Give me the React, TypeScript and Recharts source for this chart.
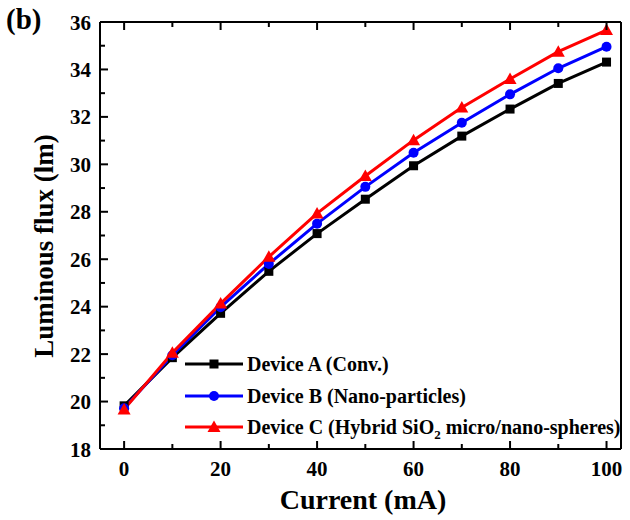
import React from "react";
import { LineChart, Line, XAxis, YAxis, Legend } from "recharts";

// Luminous flux vs current for three LED devices
const currents = [0, 10, 20, 30, 40, 50, 60, 70, 80, 90, 100];
const deviceA = [19.82, 21.85, 23.72, 25.49, 27.08, 28.53, 29.94, 31.19, 32.33, 33.41, 34.31];
const deviceB = [19.72, 21.95, 23.98, 25.8, 27.5, 29.05, 30.49, 31.75, 32.95, 34.05, 34.96];
const deviceC = [19.67, 22.06, 24.13, 26.1, 27.93, 29.51, 31.02, 32.4, 33.6, 34.75, 35.66];

const xTicks = [0, 10, 20, 30, 40, 50, 60, 70, 80, 90, 100];
const xLabels = [0, 20, 40, 60, 80, 100];
const yTicks = [18, 19, 20, 21, 22, 23, 24, 25, 26, 27, 28, 29, 30, 31, 32, 33, 34, 35, 36];
const yLabels = [18, 20, 22, 24, 26, 28, 30, 32, 34, 36];

const seriesNames = [
  "Device A (Conv.)",
  "Device B (Nano-particles)",
  "Device C (Hybrid SiO2 micro/nano-spheres)",
];
const seriesColors = ["#000000", "#0000ff", "#ff0000"];

const data = currents.map((c, i) => ({
  current: c,
  a: deviceA[i],
  b: deviceB[i],
  c: deviceC[i],
}));

const FONT = "'Liberation Serif', 'Times New Roman', serif";
const tickFont = { fontFamily: FONT, fontWeight: 700, fontSize: 21, fill: "#000" };

const SquareDot = (p: any) => (
  <rect key={`a${p.index}`} x={p.cx - 4.5} y={p.cy - 4.5} width={9} height={9} fill="#000" />
);
const CircleDot = (p: any) => (
  <circle key={`b${p.index}`} cx={p.cx} cy={p.cy} r={5} fill="#0000ff" />
);
const TriDot = (p: any) => (
  <polygon
    key={`c${p.index}`}
    points={`${p.cx},${p.cy - 6.5} ${p.cx + 6.5},${p.cy + 5} ${p.cx - 6.5},${p.cy + 5}`}
    fill="#ff0000"
  />
);

const BottomTick = ({ x, y, payload }: any) => {
  const major = xLabels.includes(payload.value);
  return (
    <g>
      <line x1={x} x2={x} y1={y} y2={y - (major ? 8 : 5)} stroke="#000" strokeWidth={2} />
      {major && (
        <text x={x} y={y + 27} textAnchor="middle" style={tickFont}>
          {payload.value}
        </text>
      )}
    </g>
  );
};

const TopTick = ({ x, y, payload }: any) => {
  const major = xLabels.includes(payload.value);
  return <line x1={x} x2={x} y1={y} y2={y + (major ? 8 : 5)} stroke="#000" strokeWidth={2} />;
};

const LeftTick = ({ x, y, payload }: any) => {
  const major = yLabels.includes(payload.value);
  return (
    <g>
      <line x1={x} x2={x + (major ? 8 : 5)} y1={y} y2={y} stroke="#000" strokeWidth={2} />
      {major && (
        <text x={x - 9} y={y} dy="0.36em" textAnchor="end" style={tickFont}>
          {payload.value}
        </text>
      )}
    </g>
  );
};

const RightTick = ({ x, y, payload }: any) => {
  const major = yLabels.includes(payload.value);
  return <line x1={x} x2={x - (major ? 8 : 5)} y1={y} y2={y} stroke="#000" strokeWidth={2} />;
};

const legendFont = { fontFamily: FONT, fontWeight: 700, fontSize: 20, fill: "#000" };

const LegendBox = () => {
  const rows = [16, 48, 79];
  const markers = [
    (cy: number) => <rect x={24.5} y={cy - 4.5} width={9} height={9} fill={seriesColors[0]} />,
    (cy: number) => <circle cx={29} cy={cy} r={5} fill={seriesColors[1]} />,
    (cy: number) => (
      <polygon points={`29,${cy - 6.5} 35.5,${cy + 5} 22.5,${cy + 5}`} fill={seriesColors[2]} />
    ),
  ];
  return (
    <svg width={450} height={96} style={{ display: "block", overflow: "visible" }}>
      {rows.map((cy, i) => (
        <g key={i}>
          <line x1={0} x2={58} y1={cy} y2={cy} stroke={seriesColors[i]} strokeWidth={3} />
          {markers[i](cy)}
          {i < 2 ? (
            <text x={62} y={cy + 7} style={legendFont}>
              {seriesNames[i]}
            </text>
          ) : (
            <text x={62} y={cy + 7} style={legendFont}>
              Device C (Hybrid SiO
              <tspan dy={5} fontSize={13}>
                2
              </tspan>
              <tspan dy={-5}> micro/nano-spheres)</tspan>
            </text>
          )}
        </g>
      ))}
    </svg>
  );
};

const axisLine = { stroke: "#000", strokeWidth: 2 };

export default function App() {
  return (
    <div style={{ position: "absolute", left: 0, top: 0, width: 630, height: 520, background: "#fff" }}>
      <div
        style={{
          position: "absolute",
          left: 6,
          top: 3,
          fontFamily: FONT,
          fontWeight: 700,
          fontSize: 29,
          lineHeight: "32px",
        }}
      >
        (b)
      </div>
      <LineChart width={630} height={520} data={data} margin={{ top: 0, right: 0, bottom: 0, left: 0 }}>
        <XAxis
          dataKey="current"
          type="number"
          domain={[-5, 103]}
          ticks={xTicks}
          interval={0}
          tickSize={0}
          tickMargin={0}
          tickLine={false}
          axisLine={axisLine}
          tick={<BottomTick />}
          height={71}
          label={{
            content: () => (
              <text x={363} y={509} textAnchor="middle" style={{ ...tickFont, fontSize: 28 }}>
                Current (mA)
              </text>
            ),
          }}
        />
        <XAxis
          xAxisId="top"
          orientation="top"
          dataKey="current"
          type="number"
          domain={[-5, 103]}
          ticks={xTicks}
          interval={0}
          tickSize={0}
          tickMargin={0}
          tickLine={false}
          axisLine={axisLine}
          tick={<TopTick />}
          height={22}
        />
        <YAxis
          type="number"
          domain={[18, 36]}
          ticks={yTicks}
          interval={0}
          tickSize={0}
          tickMargin={0}
          tickLine={false}
          axisLine={axisLine}
          tick={<LeftTick />}
          width={100}
          label={{
            content: () => (
              <text
                x={53}
                y={246}
                textAnchor="middle"
                transform="rotate(-90, 53, 246)"
                style={{ ...tickFont, fontSize: 27 }}
              >
                Luminous flux (lm)
              </text>
            ),
          }}
        />
        <YAxis
          yAxisId="right"
          orientation="right"
          type="number"
          domain={[18, 36]}
          ticks={yTicks}
          interval={0}
          tickSize={0}
          tickMargin={0}
          tickLine={false}
          axisLine={axisLine}
          tick={<RightTick />}
          width={9}
        />
        <Legend
          layout="vertical"
          align="center"
          verticalAlign="middle"
          content={() => <LegendBox />}
          wrapperStyle={{ position: "absolute", left: 185, top: 348, width: 450, height: 96 }}
        />
        <Line
          type="linear"
          dataKey="a"
          name={seriesNames[0]}
          stroke={seriesColors[0]}
          strokeWidth={3}
          dot={SquareDot}
          isAnimationActive={false}
        />
        <Line
          type="linear"
          dataKey="b"
          name={seriesNames[1]}
          stroke={seriesColors[1]}
          strokeWidth={3}
          dot={CircleDot}
          isAnimationActive={false}
        />
        <Line
          type="linear"
          dataKey="c"
          name={seriesNames[2]}
          stroke={seriesColors[2]}
          strokeWidth={3}
          dot={TriDot}
          isAnimationActive={false}
        />
      </LineChart>
    </div>
  );
}
